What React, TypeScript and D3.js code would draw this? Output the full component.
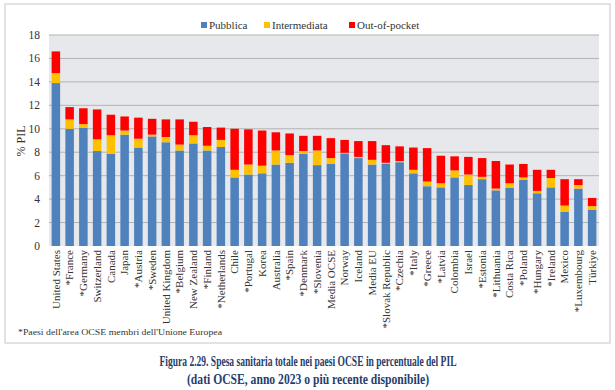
import * as d3 from "d3";
import React from "react";

const width = 615;
const height = 390;
const margin = { top: 35, right: 16, bottom: 144, left: 49 };

const countries = [
  "United States", "*France", "*Germany", "Switzerland", "Canada", "Japan",
  "*Austria", "*Sweden", "United Kingdom", "*Belgium", "New Zealand", "*Finland",
  "*Netherlands", "Chile", "*Portugal", "Korea", "Australia", "*Spain",
  "*Denmark", "*Slovenia", "Media OCSE", "Norway", "Iceland", "Media EU",
  "*Slovak Republic", "*Czechia", "*Italy", "*Greece", "*Latvia", "Colombia",
  "Israel", "*Estonia", "*Lithuania", "Costa Rica", "*Poland", "*Hungary",
  "*Ireland", "Mexico", "*Luxembourg", "Türkiye",
];

const pubblica = [
  13.9, 10.0, 10.1, 8.1, 7.85, 9.5, 8.4, 9.35, 8.85, 8.15, 8.75, 8.15,
  8.45, 5.85, 6.1, 6.2, 6.95, 7.1, 7.85, 6.9, 7.0, 7.9, 7.5, 6.95,
  7.0, 7.15, 6.2, 5.1, 5.0, 5.85, 5.2, 5.7, 4.75, 4.95, 5.65, 4.5,
  5.0, 2.9, 4.9, 3.1,
];

const intermediata = [
  0.85, 0.8, 0.3, 1.0, 1.6, 0.35, 0.75, 0.15, 0.45, 0.5, 0.7, 0.4,
  0.6, 0.65, 0.85, 0.65, 1.2, 0.65, 0.25, 1.25, 0.5, 0.05, 0.1, 0.4,
  0.1, 0.1, 0.3, 0.4, 0.35, 0.6, 0.9, 0.2, 0.15, 0.4, 0.2, 0.2,
  0.8, 0.55, 0.3, 0.3,
];

const outOfPocket = [
  1.85, 1.05, 1.35, 2.55, 1.75, 1.2, 1.8, 1.35, 1.5, 2.15, 1.15, 1.6,
  1.05, 3.5, 3.0, 3.0, 1.55, 1.85, 1.3, 1.25, 1.7, 1.1, 1.35, 1.6,
  1.5, 1.25, 1.9, 2.85, 2.35, 1.2, 1.5, 1.6, 2.35, 1.6, 1.15, 1.8,
  0.7, 2.25, 0.5, 0.7,
];

const seriesKeys = ["Pubblica", "Intermediata", "Out-of-pocket"];
const seriesColors = ["#4f81bd", "#ffc000", "#ff0000"];
const yTicks = [0, 2, 4, 6, 8, 10, 12, 14, 16, 18];

const serif = "'Liberation Serif', 'DejaVu Serif', serif";

export default function App() {
  const rows = countries.map((c, i) => ({
    country: c,
    Pubblica: pubblica[i],
    Intermediata: intermediata[i],
    "Out-of-pocket": outOfPocket[i],
  }));

  const stacked = d3.stack<any>().keys(seriesKeys)(rows);

  const x = d3
    .scaleBand()
    .domain(countries)
    .range([margin.left, width - margin.right])
    .paddingInner(0.38)
    .paddingOuter(0.19);

  const y = d3
    .scaleLinear()
    .domain([0, 18])
    .range([height - margin.bottom, margin.top]);

  const legendX = [201, 264, 349];

  return (
    <div style={{ position: "absolute", left: 0, top: 0 }}>
      <svg width={width} height={height} style={{ display: "block" }}>
        <rect x={0} y={0} width={width} height={height} fill="#fff" />
        {/* chart frame */}
        <rect x={5} y={4} width={605} height={339} fill="none" stroke="#d9d9d9" strokeWidth={1.5} />

        {/* plot background */}
        <rect
          x={margin.left}
          y={margin.top}
          width={width - margin.left - margin.right}
          height={height - margin.top - margin.bottom}
          fill="#e7e8ec"
        />

        {yTicks.map((t) => (
          <g key={t}>
            {t > 0 && (
              <line
                x1={margin.left}
                x2={width - margin.right}
                y1={y(t)}
                y2={y(t)}
                stroke="#b3b3b3"
                strokeWidth={1}
              />
            )}
            <text
              x={margin.left - 9}
              y={y(t)}
              dy="0.35em"
              textAnchor="end"
              fontFamily={serif}
              fontSize={11.5}
              fill="#333"
            >
              {t}
            </text>
          </g>
        ))}

        {stacked.map((s, si) => (
          <g key={s.key} fill={seriesColors[si]}>
            {s.map((d: any) => (
              <rect
                key={d.data.country}
                x={x(d.data.country)}
                y={y(d[1])}
                width={x.bandwidth()}
                height={y(d[0]) - y(d[1])}
              />
            ))}
          </g>
        ))}

        {/* x labels */}
        {countries.map((c) => (
          <text
            key={c}
            transform={`translate(${(x(c) as number) + x.bandwidth() / 2 + 3.7}, ${height - margin.bottom + 4}) rotate(-90)`}
            textAnchor="end"
            fontFamily={serif}
            fontSize={11}
            fill="#333"
          >
            {c}
          </text>
        ))}

        {/* y axis title */}
        <text
          transform={`translate(25, 141) rotate(-90)`}
          textAnchor="middle"
          fontFamily={serif}
          fontSize={12}
          fill="#333"
        >
          % PIL
        </text>

        {/* legend */}
        {seriesKeys.map((k, i) => (
          <g key={k} transform={`translate(${legendX[i]}, 22)`}>
            <rect x={0} y={0} width={6} height={6} fill={seriesColors[i]} />
            <text x={8} y={7} fontFamily={serif} fontSize={11} fill="#333">
              {k}
            </text>
          </g>
        ))}

        {/* footnote */}
        <text x={18} y={335} fontFamily={serif} fontSize={9} fill="#333" textLength={204} lengthAdjust="spacingAndGlyphs">
          *Paesi dell'area OCSE membri dell'Unione Europea
        </text>

        {/* caption */}
        <text
          x={308}
          y={366}
          textAnchor="middle"
          fontFamily={serif}
          fontWeight="bold"
          fontSize={14}
          fill="#1f3e6e"
          textLength={297}
          lengthAdjust="spacingAndGlyphs"
        >
          Figura 2.29. Spesa sanitaria totale nei paesi OCSE in percentuale del PIL
        </text>
        <text
          x={308}
          y={384}
          textAnchor="middle"
          fontFamily={serif}
          fontWeight="bold"
          fontSize={14}
          fill="#1f3e6e"
          textLength={242}
          lengthAdjust="spacingAndGlyphs"
        >
          (dati OCSE, anno 2023 o più recente disponibile)
        </text>
      </svg>
    </div>
  );
}
